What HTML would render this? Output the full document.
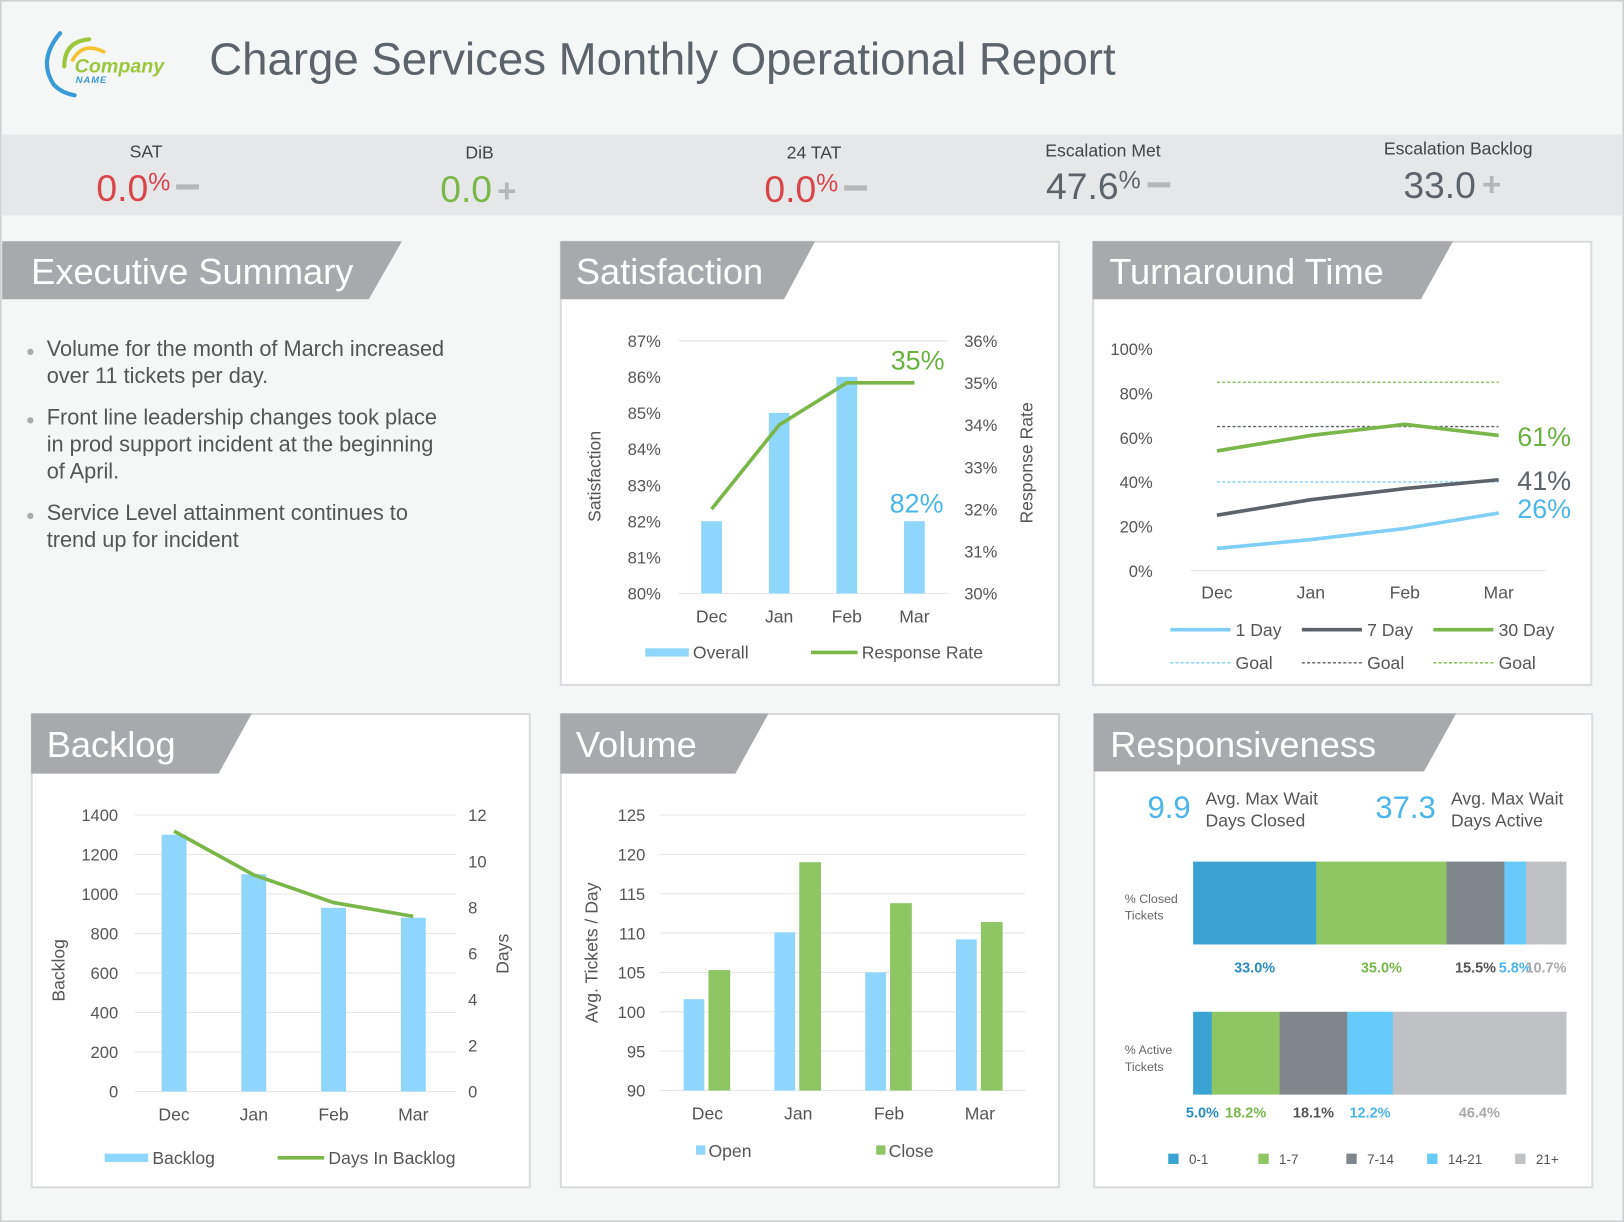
<!DOCTYPE html>
<html><head><meta charset="utf-8"><style>
html,body{margin:0;padding:0;background:#fff;}
svg{display:block;font-family:"Liberation Sans",Arial,sans-serif;}
</style></head><body>
<svg id="root" width="1624" height="1222" viewBox="0 0 1568 1180" xmlns="http://www.w3.org/2000/svg">
<rect x="0" y="0" width="1568" height="1180" fill="#f5f7f7" stroke="#cfd1d2" stroke-width="3"/>
<g>
<path d="M58,32 Q36,58 52,82 Q60,90 72,92" fill="none" stroke="#3a9ad6" stroke-width="4" stroke-linecap="round"/>
<path d="M86,38 Q62,40 62,64" fill="none" stroke="#9cc63b" stroke-width="4" stroke-linecap="round"/>
<path d="M100,50 Q80,40 70,58" fill="none" stroke="#f2c230" stroke-width="3.5" stroke-linecap="round"/>
<text x="72" y="70" font-size="19" font-style="italic" font-weight="bold" fill="#9cc63b">Company</text>
<text x="73" y="80" font-size="9" font-style="italic" font-weight="bold" fill="#3a9ad6" letter-spacing="1">NAME</text>
</g>
<text x="202" y="72" font-size="44" fill="#5d636b">Charge Services Monthly Operational Report</text>
<rect x="2" y="130" width="1564" height="78" fill="#e6e7e8"/>
<g font-size="17" fill="#444" text-anchor="middle">
<text x="141" y="152">SAT</text><text x="463" y="153">DiB</text><text x="786" y="153">24 TAT</text><text x="1065" y="151">Escalation Met</text><text x="1408" y="149">Escalation Backlog</text>
</g>
<g font-size="36">
<text x="93" y="194" fill="#d9434a">0.0<tspan font-size="24" dy="-10">%</tspan></text>
<rect x="170" y="178" width="22" height="5" fill="#b5b7b9"/>
<text x="425" y="195" fill="#7ab648">0.0</text>
<text x="480" y="195" font-size="32" font-weight="bold" fill="#b5b7b9">+</text>
<text x="738" y="195" fill="#d9434a">0.0<tspan font-size="24" dy="-10">%</tspan></text>
<rect x="815" y="179" width="22" height="5" fill="#b5b7b9"/>
<text x="1010" y="192" fill="#5d636b">47.6<tspan font-size="24" dy="-10">%</tspan></text>
<rect x="1108" y="176" width="22" height="5" fill="#b5b7b9"/>
<text x="1355" y="191" fill="#5d636b">33.0</text>
<text x="1431" y="189" font-size="32" font-weight="bold" fill="#b5b7b9">+</text>
</g>

<!-- Executive summary -->
<polygon points="2,233 388,233 356,289 2,289" fill="#a7a9ac"/>
<text x="30" y="274" font-size="35" fill="#fff">Executive Summary</text>
<g font-size="21" fill="#555">
<text x="25" y="344" fill="#aaa" font-size="14">●</text>
<text x="45" y="344">Volume for the month of March increased</text><text x="45" y="370">over 11 tickets per day.</text>
<text x="25" y="410" fill="#aaa" font-size="14">●</text>
<text x="45" y="410">Front line leadership changes took place</text><text x="45" y="436">in prod support incident at the beginning</text><text x="45" y="462">of April.</text>
<text x="25" y="502" fill="#aaa" font-size="14">●</text>
<text x="45" y="502">Service Level attainment continues to</text><text x="45" y="528">trend up for incident</text>
</g>

<!-- panels -->
<g>
<rect x="541.5" y="233.5" width="481" height="428" fill="#fff" stroke="#d9dbdc" stroke-width="2"/>
<rect x="1055.5" y="233.5" width="481" height="428" fill="#fff" stroke="#d9dbdc" stroke-width="2"/>
<rect x="30.5" y="689.5" width="481" height="457" fill="#fff" stroke="#d9dbdc" stroke-width="2"/>
<rect x="541.5" y="689.5" width="481" height="457" fill="#fff" stroke="#d9dbdc" stroke-width="2"/>
<rect x="1056.5" y="689.5" width="481" height="457" fill="#fff" stroke="#d9dbdc" stroke-width="2"/>
<polygon points="541,233 787,233 757,289 541,289" fill="#a7a9ac"/>
<polygon points="1055,233 1403,233 1372,289 1055,289" fill="#a7a9ac"/>
<polygon points="30,689 243,689 211,747 30,747" fill="#a7a9ac"/>
<polygon points="541,689 742,689 710,747 541,747" fill="#a7a9ac"/>
<polygon points="1056,689 1406,689 1375,745 1056,745" fill="#a7a9ac"/>
</g>
<g font-size="35" fill="#fff">
<text x="556" y="274">Satisfaction</text><text x="1071" y="274">Turnaround Time</text>
<text x="45" y="731">Backlog</text><text x="556" y="731">Volume</text><text x="1072" y="731">Responsiveness</text>
</g>
<g id="charts"></g>

<!-- Responsiveness -->
<g>
<text x="1108" y="790" font-size="30" fill="#4bb6e8">9.9</text>
<text x="1164" y="777" font-size="17" fill="#555">Avg. Max Wait</text><text x="1164" y="798" font-size="17" fill="#555">Days Closed</text>
<text x="1328" y="790" font-size="30" fill="#4bb6e8">37.3</text>
<text x="1401" y="777" font-size="17" fill="#555">Avg. Max Wait</text><text x="1401" y="798" font-size="17" fill="#555">Days Active</text>
</g>
<g font-size="12" fill="#666">
<text x="1086" y="872">% Closed</text><text x="1086" y="888">Tickets</text>
<text x="1086" y="1018">% Active</text><text x="1086" y="1034">Tickets</text>
</g>
<g id="resp"></g>
</svg>
<script>
var NS='http://www.w3.org/2000/svg';
function mk(p,tag,a,txt){var e=document.createElementNS(NS,tag);for(var k in a)e.setAttribute(k,a[k]);if(txt!==undefined)e.textContent=txt;p.appendChild(e);return e;}
var charts=document.getElementById('charts');

// ---------- Satisfaction ----------
var satCats=['Dec','Jan','Feb','Mar'];
var satOverall=[82,85,86,82];
var satResponse=[32,34,35,35];
var satLeftTicks=[80,81,82,83,84,85,86,87];
var satRightTicks=[30,31,32,33,34,35,36];
(function(){
  var g=mk(charts,'g',{});
  
  
  var y0=573,y1=329;
  function yl(v){return y0-(v-80)/7*(y0-y1);}
  function yr(v){return y0-(v-30)/6*(y0-y1);}
  function x(i){return 687+i*65.3;}
  mk(g,'line',{x1:655,x2:915,y1:y1,y2:y1,stroke:'#e3e3e3'});
  mk(g,'line',{x1:655,x2:915,y1:y0,y2:y0,stroke:'#e3e3e3'});
  satLeftTicks.forEach(function(t){var e=mk(g,'text',{x:638,y:yl(t)+6,'font-size':16,fill:'#555','text-anchor':'end'},t+'%');});
  satRightTicks.forEach(function(t){var e=mk(g,'text',{x:931,y:yr(t)+6,'font-size':16,fill:'#555'},t+'%');});
  satOverall.forEach(function(v,i){var e=mk(g,'rect',{x:x(i)-10,y:yl(v),width:20,height:y0-yl(v),fill:'#8ed6fb'});});
  satCats.forEach(function(c,i){var e=mk(g,'text',{x:x(i),y:601,'font-size':17,fill:'#555','text-anchor':'middle'},c);});
  var pts=satResponse.map(function(v,i){return x(i)+','+yr(v);}).join(' ');
  var l=mk(g,'polyline',{points:pts,fill:'none',stroke:'#7ab648','stroke-width':3.5});
  
  mk(g,'text',{x:886,y:357,'font-size':26,fill:'#6ab23e','text-anchor':'middle'},satResponse[3]+'%');
  mk(g,'text',{x:885,y:495,'font-size':26,fill:'#4bb6e8','text-anchor':'middle'},satOverall[3]+'%');
  mk(g,'text',{transform:'translate(580,460) rotate(-90)','font-size':17,fill:'#555','text-anchor':'middle'},'Satisfaction');
  mk(g,'text',{transform:'translate(997,447) rotate(-90)','font-size':17,fill:'#555','text-anchor':'middle'},'Response Rate');
  mk(g,'rect',{x:623,y:626,width:42,height:8,fill:'#8ed6fb'});
  mk(g,'text',{x:669,y:636,'font-size':17,fill:'#555'},'Overall');
  mk(g,'line',{x1:783,x2:828,y1:630,y2:630,stroke:'#7ab648','stroke-width':3.5});
  mk(g,'text',{x:832,y:636,'font-size':17,fill:'#555'},'Response Rate');
})();

// ---------- Turnaround ----------
var tatCats=['Dec','Jan','Feb','Mar'];
var tat1Day=[10,14,19,26];
var tat7Day=[25,32,37,41];
var tat30Day=[54,61,66,61];
var tatGoals=[40,65,85];
var tatTicks=[0,20,40,60,80,100];
(function(){
  var g=mk(charts,'g',{});
  
  
  var y0=551,y1=337;
  function y(v){return y0-v/100*(y0-y1);}
  function x(i){return 1175+i*90.7;}
  var cols=['#7fcff7','#5d636b','#7ab648'];
  mk(g,'line',{x1:1150,x2:1492,y1:y0,y2:y0,stroke:'#ddd'});
  tatTicks.forEach(function(t){var e=mk(g,'text',{x:1113,y:y(t)+6,'font-size':16,fill:'#555','text-anchor':'end'},t+'%');});
  tatCats.forEach(function(c,i){var e=mk(g,'text',{x:x(i),y:578,'font-size':17,fill:'#555','text-anchor':'middle'},c);});
  tatGoals.forEach(function(v,k){var e=mk(g,'line',{x1:1175,x2:1447,y1:y(v),y2:y(v),stroke:cols[k],'stroke-width':1.3,'stroke-dasharray':'3,2'});});
  [tat1Day,tat7Day,tat30Day].forEach(function(s,k){
    var e=mk(g,'polyline',{points:s.map(function(v,i){return x(i)+','+y(v);}).join(' '),fill:'none',stroke:cols[k],'stroke-width':3.5});
    
  });
  mk(g,'text',{x:1465,y:y(tat30Day[3])+10,'font-size':26,fill:'#6ab23e'},tat30Day[3]+'%');
  mk(g,'text',{x:1465,y:y(tat7Day[3])+10,'font-size':26,fill:'#5d636b'},tat7Day[3]+'%');
  mk(g,'text',{x:1465,y:y(tat1Day[3])+5,'font-size':26,fill:'#4bb6e8'},tat1Day[3]+'%');
  var lg=[['1 Day',1130],['7 Day',1257],['30 Day',1384]];
  lg.forEach(function(a,k){
    mk(g,'line',{x1:a[1],x2:a[1]+58,y1:608,y2:608,stroke:cols[k],'stroke-width':3.5});
    mk(g,'text',{x:a[1]+63,y:614,'font-size':17,fill:'#555'},a[0]);
    mk(g,'line',{x1:a[1],x2:a[1]+58,y1:640,y2:640,stroke:cols[k],'stroke-width':1.3,'stroke-dasharray':'3,2'});
    mk(g,'text',{x:a[1]+63,y:646,'font-size':17,fill:'#555'},'Goal');
  });
})();

// ---------- Backlog ----------
var blCats=['Dec','Jan','Feb','Mar'];
var blBacklog=[1300,1100,930,880];
var blDays=[11.3,9.4,8.2,7.6];
var blLeftTicks=[0,200,400,600,800,1000,1200,1400];
var blRightTicks=[0,2,4,6,8,10,12];
(function(){
  var g=mk(charts,'g',{});
  
  
  var y0=1054,y1=787;
  function yl(v){return y0-v/1400*(y0-y1);}
  function yr(v){return y0-v/12*(y0-y1);}
  function x(i){return 168+i*77;}
  blLeftTicks.forEach(function(t){
    mk(g,'line',{x1:130,x2:440,y1:yl(t),y2:yl(t),stroke:'#e6e6e6'});
    var e=mk(g,'text',{x:114,y:yl(t)+6,'font-size':16,fill:'#555','text-anchor':'end'},t);});
  blRightTicks.forEach(function(t){var e=mk(g,'text',{x:452,y:yr(t)+6,'font-size':16,fill:'#555'},t);});
  blBacklog.forEach(function(v,i){var e=mk(g,'rect',{x:x(i)-12,y:yl(v),width:24,height:y0-yl(v),fill:'#8ed6fb'});});
  blCats.forEach(function(c,i){var e=mk(g,'text',{x:x(i),y:1082,'font-size':17,fill:'#555','text-anchor':'middle'},c);});
  var l=mk(g,'polyline',{points:blDays.map(function(v,i){return x(i)+','+yr(v);}).join(' '),fill:'none',stroke:'#7ab648','stroke-width':3.5});
  
  mk(g,'text',{transform:'translate(62,937) rotate(-90)','font-size':17,fill:'#555','text-anchor':'middle'},'Backlog');
  mk(g,'text',{transform:'translate(491,921) rotate(-90)','font-size':17,fill:'#555','text-anchor':'middle'},'Days');
  mk(g,'rect',{x:101,y:1114,width:42,height:8,fill:'#8ed6fb'});
  mk(g,'text',{x:147,y:1124,'font-size':17,fill:'#555'},'Backlog');
  mk(g,'line',{x1:268,x2:313,y1:1118,y2:1118,stroke:'#7ab648','stroke-width':3.5});
  mk(g,'text',{x:317,y:1124,'font-size':17,fill:'#555'},'Days In Backlog');
})();

// ---------- Volume ----------
var volCats=['Dec','Jan','Feb','Mar'];
var volOpen=[101.6,110.1,105,109.2];
var volClose=[105.3,119,113.8,111.4];
var volTicks=[90,95,100,105,110,115,120,125];
(function(){
  var g=mk(charts,'g',{});
  
  
  var y0=1053,y1=787;
  function y(v){return y0-(v-90)/35*(y0-y1);}
  function x(i){return 683+i*87.7;}
  volTicks.forEach(function(t){
    mk(g,'line',{x1:637,x2:990,y1:y(t),y2:y(t),stroke:'#e6e6e6'});
    var e=mk(g,'text',{x:623,y:y(t)+6,'font-size':16,fill:'#555','text-anchor':'end'},t);});
  volOpen.forEach(function(v,i){var e=mk(g,'rect',{x:x(i)-23,y:y(v),width:20,height:y0-y(v),fill:'#8ed6fb'});});
  volClose.forEach(function(v,i){var e=mk(g,'rect',{x:x(i)+1,y:y(v),width:21,height:y0-y(v),fill:'#8dc663'});});
  volCats.forEach(function(c,i){var e=mk(g,'text',{x:x(i),y:1081,'font-size':17,fill:'#555','text-anchor':'middle'},c);});
  mk(g,'text',{transform:'translate(577,920) rotate(-90)','font-size':17,fill:'#555','text-anchor':'middle'},'Avg. Tickets / Day');
  mk(g,'rect',{x:672,y:1106,width:9,height:9,fill:'#8ed6fb'});
  mk(g,'text',{x:684,y:1117,'font-size':17,fill:'#555'},'Open');
  mk(g,'rect',{x:846,y:1106,width:9,height:9,fill:'#8dc663'});
  mk(g,'text',{x:858,y:1117,'font-size':17,fill:'#555'},'Close');
})();

// ---------- Responsiveness ----------
var respBuckets=['0-1','1-7','7-14','14-21','21+'];
var respClosed=[33.0,35.0,15.5,5.8,10.7];
var respActive=[5.0,18.2,18.1,12.2,46.4];
(function(){
  var g=document.getElementById('resp');
  
  
  var cols=['#3ba3d4','#8dc663','#7f868c','#66cbfa','#bfc1c4'];
  var tcols=['#2a8cc0','#78b84a','#555','#4bb6e8','#aaa'];
  var x0=1152,W=360;
  function row(vals,yt,h,ly,name){
    var tot=vals.reduce(function(a,b){return a+b;},0),cx=x0;
    vals.forEach(function(v,i){
      var w=v/tot*W;
      var e=mk(g,'rect',{x:cx,y:yt,width:w+0.5,height:h,fill:cols[i]});
      
      
      var tx=cx+w/2;
      if(w<40){tx=cx+w/2;}
      var t=mk(g,'text',{x:tx,y:ly,'font-size':14,'font-weight':'bold',fill:tcols[i],'text-anchor':'middle'},v.toFixed(1)+'%');
      
      
      cx+=w;
    });
  }
  row(respClosed,832,80,939,'closed-tickets');
  row(respActive,977,80,1079,'active-tickets');
  var lx=[1128,1215,1300,1378,1463];
  respBuckets.forEach(function(b,i){
    var r=mk(g,'rect',{x:lx[i],y:1114,width:10,height:10,fill:cols[i]});
    
    
    mk(g,'text',{x:lx[i]+20,y:1124,'font-size':13,fill:'#555'},b);
  });
})();
</script>
</body></html>
